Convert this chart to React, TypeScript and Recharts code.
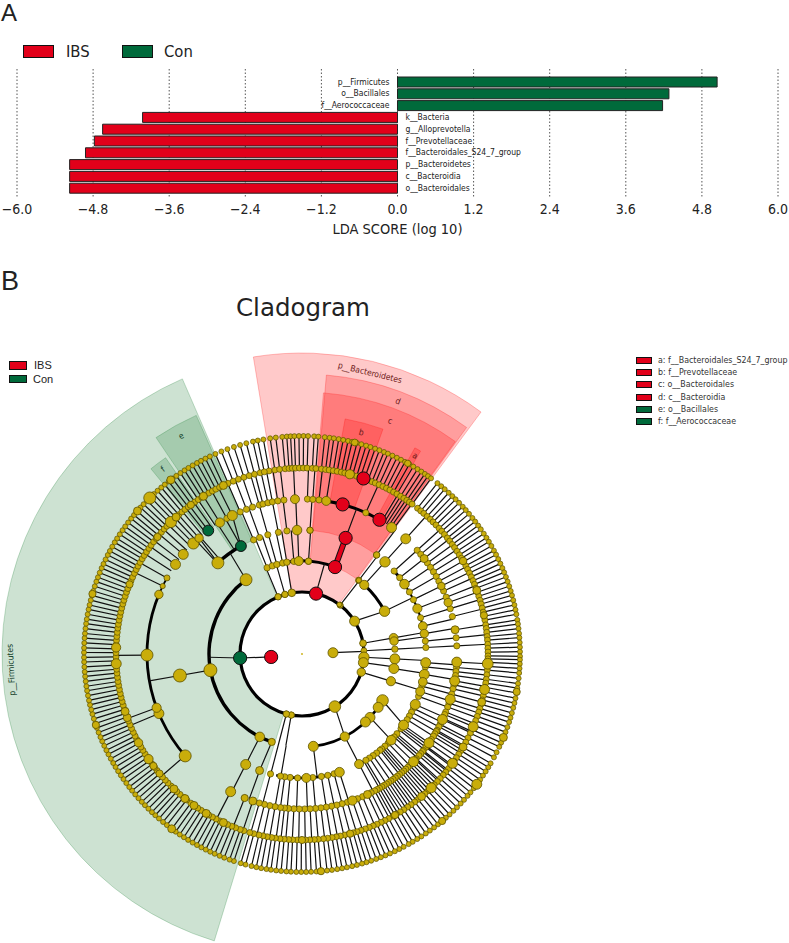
import React from 'react';
import { BarChart, Bar, XAxis, YAxis, CartesianGrid, Cell, LabelList, PieChart, Pie, ComposedChart, Line, Scatter } from 'recharts';

// ---------- Panel A data ----------
const taxa = ['p__Firmicutes','o__Bacillales','f__Aerococcaceae','k__Bacteria','g__Alloprevotella','f__Prevotellaceae','f__Bacteroidales_S24_7_group','p__Bacteroidetes','c__Bacteroidia','o__Bacteroidales'];
const ldaScores = [5.04,4.28,4.18,-4.02,-4.65,-4.78,-4.92,-5.17,-5.17,-5.17];
const ldaTicks = [-6,-4.8,-3.6,-2.4,-1.2,0,1.2,2.4,3.6,4.8,6];
const groups = ['IBS','Con'];
const cladeNames = ['a: f__Bacteroidales_S24_7_group','b: f__Prevotellaceae','c: o__Bacteroidales','d: c__Bacteroidia','e: o__Bacillales','f: f__Aerococcaceae'];
const cladeGroup = [0,0,0,0,1,1];

// ---------- Panel B data (compass degrees, clockwise from north) ----------
const leaves = [
  -10.2,-8.4,-6.9,-5.2,-4.0,-3.0,-2.0,-0.8,0.4,1.6,3.2,4.3,6.0,7.3,8.4,9.7,10.9,12.2,13.3,14.6,15.8,17.1,18.3,19.6,20.8,22.1,23.2,24.5,25.8,27.0,28.2,29.5,30.7,32.0,33.2,34.3,35.3,36.3,
  38.4,39.7,40.9,42.3,43.6,44.8,46.1,47.5,48.7,50.0,51.4,52.6,53.9,55.1,56.5,57.8,59.0,60.3,61.7,62.9,64.2,65.5,66.8,68.0,69.3,70.6,71.9,73.2,74.4,75.7,77.0,78.3,79.5,81.0,82.1,83.3,84.6,85.7,87.0,88.2,89.4,90.6,
  91.5,92.6,93.8,95.0,96.4,97.8,99.0,100.3,101.7,103.0,104.3,105.7,107.0,108.2,109.6,111.0,112.5,114.0,115.2,116.8,118.3,120.1,121.3,122.6,123.9,125.2,126.7,128.0,129.4,130.6,132.0,133.3,134.7,136.0,137.4,138.7,140.0,141.4,142.7,144.1,145.4,146.8,148.1,149.5,150.7,152.2,153.5,154.8,156.2,157.5,158.8,160.1,161.5,162.8,164.0,165.4,166.7,168.1,169.4,170.7,172.1,173.4,175.0,176.2,177.6,178.9,180.2,181.5,182.9,184.1,185.5,186.8,188.2,189.4,190.8,192.1,193.4,195.0,196.3,
  198.2,199.4,200.9,202.2,203.6,204.9,206.2,207.5,208.8,210.1,211.5,212.8,214.1,215.4,216.7,218.3,219.6,221.0,222.3,223.5,224.8,226.1,227.3,228.6,229.9,231.2,232.4,233.7,235.0,236.2,237.5,238.8,240.0,241.3,242.6,243.8,245.1,246.4,247.6,248.9,250.2,251.4,252.7,254.0,255.2,256.5,257.7,259.0,260.3,261.5,262.8,264.1,265.3,266.6,267.9,269.1,270.4,271.6,272.9,274.2,275.4,276.7,278.0,279.2,280.5,281.8,283.0,284.3,285.6,286.8,288.1,289.4,290.6,291.9,293.2,294.4,295.7,297.0,298.2,299.5,300.8,302.0,303.3,304.6,305.8,307.1,308.4,309.6,310.9,312.2,313.4,314.7,316.0,317.2,318.5,319.8,321.0,322.3,323.6,324.8,326.1,327.4,328.6,329.9,331.2,332.4,333.7,335.0,336.6,338.3,340.0,341.8,343.5,345.2,347.0,348.3
];
const nodes4 = [-29,-26.7,-23.5,-21,-18.6,-16,-14.6,-12.7,-11,-9,-6.7,-2.6,2,4,6.3,9,24.3,42,48,50,52,54,56,58,60,62,64,66,68.5,70.6,73,76,81,84,87,93,95,96.5,98,100,101.5,103,105,107,108.5,110,112,113,114.5,115,117,118,119.5,120,121,122,123.5,125,126.5,127,128.5,129,130,131,132.5,133,134,135,136,137,138,139,140,141,142,143,144,145,146,147,148,149,150,151,152,153.5,155,157,159,161,163,165,167,169,171,173,175,177,179,181,183,185,186.5,188,190,192,194,196,198.5,201.7,207.4,229,247.4,249.7,269.6];
const fan45 = [31,32,33,34,35,36.2,-64,-60.6,-57.5,-54.7,-52.5,-50,-48,-46,-44.5,-43,-41.6,-40,-38.5,-37.2,-35.5,-34,-32];
const nodes3 = [-23,-20,-16,-11,-7,-2.3,3.7,37,48,52,56,60,64,68.5,73,77,80.5,84,87,94,96,99.5,103,105,107.6,110,114,116,118,120,122,125,127,130,132,134,136,138,140,141,143,145,147,149,152.6,162.4,165,168,171,175,178,182,185.5,188,190,194.7,200,207];
const fan34 = [-43,-29.5,-41,-33,126,128,131,136,139,143,147,150];
const nodes2 = [-22,-18.6,-15.7,-12,-9.4,-5,-2,4,37.6,80,82,87,93,99,107];
const links23 = [[-37,-35.5],[42,42],[62.6,63],[120,125],[133,134],[152.6,152.6],[173,173],[189.8,189.8],[194.6,194.6],[199,200],[207,207],[260,260]];
const nodes1 = [-22.7,-16,-9.5,38,80,87,93,98,107,190,194.6];
const links12 = [[13,14],[58,62.6],[148,152.6],[266.3,268]];
const links01 = [[87.6,87.6],[264.5,266.3]];
const links34extra = [[20.6,20.6],[42,42],[260,260],[-42.7,-41.6],[-29.5,-26.7]];
const hubs = [
  [0,87.6,5],[1,58,5],[1,80,3.4],[1,93,5.2],[1,98,5],[1,107,4.2],[1,148,5.8],[1,190,3.2],[1,194.6,3.2],[1,-22.7,3.2],[1,-16,3.2],[1,-9.5,3.8],[1,38,2.8],[1,37,2.4],
  [2,-37,6],[2,260,6.5],[2,207,4.8],[2,199,3.6],[2,42,4.6],[2,62.6,5.2],[2,93,5],[2,99,5],[2,107,4.6],[2,120,5.8],[2,125,5],[2,133,5],[2,137,5],[2,152.6,4.6],[2,173,5],[2,-2,4.5],[2,4,3.2],[2,80,4.4],[2,82,4.2],[2,37.6,2.6],
  [3,-42.7,6],[3,260,6.5],[3,207,5],[3,200,4],[3,42,5.2],[3,55.7,4.8],[3,68.5,4.6],[3,77,4.4],[3,94,5],[3,99.5,5],[3,103,4.4],[3,107.6,4.5],[3,114,5],[3,125,5],[3,134,4.8],[3,152.6,4.5],[3,178,4.5],[3,162.4,4.8],[3,-2.3,4.8],[3,3.7,3.2],[3,37,3.2],[3,80.5,4.2],
  [4,42,5],[4,35.3,5],[4,-2.6,4.5],[4,9,4.5],[4,-44.5,5.6],[4,-41.6,4.2],[4,-50,5],[4,-54.7,5],[4,-60.6,3],[4,-64,2.6],[4,-67.4,4.2],[4,269.6,6],[4,247.4,5],[4,249.7,4.6],[4,228.9,6],[4,207.4,5],[4,201.7,3.6],[4,198.5,4],[4,-32,4.6],[4,-26.7,5],[4,93,5],[4,100,5],[4,107,5],[4,115,5],[4,125,5],[4,134,5],[4,155,4],[4,161,4.6],[4,52,4],[4,64,3.8],[4,70.6,4.2],[4,81,4],
  [5,14.9,4.6],[5,-44.8,5.6],[5,-42.6,4],[5,-51,3.6],[5,-68,3.6],[5,-88,4.6],[5,-93,5],[5,250,4],[5,252,4],[5,241.5,4.2],[5,235.6,4.6],[5,233,3.6],[5,230,3.6],[5,223.5,4],[5,219,4],[5,215.5,4],[5,211,4],[5,205,4],[5,-25,4],[5,-32,4],[5,-36.7,3.6],[5,93,5.4],[5,101,5],[5,113,5],[5,126,5],[5,136,5],[5,140,4],[5,60,3.8],[5,70,4],[5,78,3.6],[5,105,4],[5,120,4],[5,150,3.6],[5,165,3.6],[5,180,3.6],
  [6,-44.3,6],[6,-49,4],[6,-37,4],[6,-74,3.6],[6,-109,3.6],[6,216.7,4],[6,112.5,4],[6,126.7,5],[6,140,3.6],[6,100,3.6],[6,175,3.6],[6,14,3.4],[6,29,3.2]
];
const ibsNodes = [[0,264.5],[1,13.1],[2,20.8],[3,20.6],[4,15.2],[4,30],[5,19.3]];
const conNodes = [[1,266.3],[3,-29.5],[4,-37.2]];
const thickArcs = [
  [1,0,360,3.2],[2,-22,21,3],[2,199,323,3.4],[2,42,63,3],[2,120,173,2.6],
  [3,125,153,2.6],[3,48,56,3],[3,56,77,2],[3,-43,-29.5,3.4],[3,162,192,2.6],
  [4,229,293,2.8],[4,9,30,3],[4,-67,-60,1.8],[5,-52,-48,1.5],[4,93,96,1.5]
];
const ringRadii = [31,62,93,124,155,186,218];
const phylumBands = [
  { start:-163, end:-23.5, inner:62, outer:300, group:1 },
  { start:-9.3, end:36.5, inner:62, outer:301, group:0 },
  { start:5, end:36, inner:93, outer:280, group:0 },
  { start:4.7, end:35.8, inner:124, outer:262, group:0 },
  { start:10.4, end:19.8, inner:155, outer:239, group:0 },
  { start:28.7, end:30.3, inner:155, outer:235, group:0 },
  { start:-34, end:-23.9, inner:124, outer:261, group:1 },
  { start:-39.2, end:-34.8, inner:155, outer:239, group:1 },
];
const cladeLabels = [
  { text:'p__Bacteroidetes', c:13.6, r:289, size:8.5, group:0 },
  { text:'d', c:20.8, r:270, size:8.5, group:0 },
  { text:'c', c:20.7, r:249, size:8.5, group:0 },
  { text:'b', c:15, r:229, size:8.5, group:0 },
  { text:'a', c:29.7, r:228, size:8.5, group:0 },
  { text:'e', c:-29, r:249, size:8.5, group:1 },
  { text:'f', c:-37, r:231, size:8.5, group:1 },
  { text:'p__Firmicutes', c:-93.1, r:291, size:8.5, group:1 },
];

const COL = ['#e2001a','#006a3b'];
const BAND = ['#ff0000','#12782a'];
const LABEL = ['#6e1a1a','#14402a'];
const CX = 302, CY = 654, W = 789, H = 943;
const FONT = '"DejaVu Sans Condensed","DejaVu Sans",sans-serif';

const rows = taxa.map((name, i) => ({ name, score: ldaScores[i] }));
const polar = (radius: number, c: number) => ({ x: radius * Math.sin(c * Math.PI / 180), y: radius * Math.cos(c * Math.PI / 180) });

const spokeRows: any[] = [];
const addSpoke = (r1: number, c1: number, r2: number, c2: number) => {
  const a = polar(r1, c1), b = polar(r2, c2);
  spokeRows.push({ x: a.x, y: a.y }, { x: b.x, y: b.y }, { x: b.x, y: null });
};
leaves.forEach(c => addSpoke(ringRadii[5], c, ringRadii[6], c));
nodes4.concat(fan45).forEach(c => addSpoke(ringRadii[4], c, ringRadii[5], c));
nodes3.concat(fan34).forEach(c => addSpoke(ringRadii[3], c, ringRadii[4], c));
links34extra.forEach(([a, b]) => addSpoke(ringRadii[3], a, ringRadii[4], b));
nodes2.forEach(c => addSpoke(ringRadii[2], c, ringRadii[3], c));
links23.forEach(([a, b]) => addSpoke(ringRadii[2], a, ringRadii[3], b));
nodes1.forEach(c => addSpoke(ringRadii[1], c, ringRadii[2], c));
links12.forEach(([a, b]) => addSpoke(ringRadii[1], a, ringRadii[2], b));
links01.forEach(([a, b]) => addSpoke(ringRadii[0], a, ringRadii[1], b));

const redSpoke = [polar(ringRadii[2], 20.8), polar(ringRadii[3], 20.6)];

const mk = (ring: number, c: number, size: number) => ({ ...polar(ringRadii[ring], c), size });
const smallNodes = [
  ...leaves.map(c => mk(6, c, 2.5)),
  ...leaves.map(c => mk(5, c, 3)),
  ...nodes4.map(c => mk(4, c, 3.1)),
  ...nodes3.map(c => mk(3, c, 3.1)),
  ...nodes2.map(c => mk(2, c, 3.2)),
  ...nodes1.map(c => mk(1, c, 3)),
];
const hubNodes = hubs.map(([ring, c, s]) => mk(ring, c, s));
const ibs = ibsNodes.map(([ring, c]) => mk(ring, c, 6.6));
const con = conNodes.map(([ring, c]) => mk(ring, c, ring === 1 ? 6.6 : 5.4));
const rootNode = [{ x: 0, y: 0, size: 0.9 }];
const labelRows = cladeLabels.map(l => ({ ...polar(l.r, l.c), ...l }));

const dot = (fill: string, stroke: string, sw: number) => (p: any) => (
  <circle cx={p.cx} cy={p.cy} r={p.payload.size} fill={fill} stroke={stroke} strokeWidth={sw} />
);
const labelShape = (p: any) => (
  <text x={p.cx} y={p.cy} fontSize={p.payload.size} fill={LABEL[p.payload.group]} fontFamily={FONT}
    textAnchor="middle" dominantBaseline="middle" transform={`rotate(${p.payload.c} ${p.cx} ${p.cy})`}>{p.payload.text}</text>
);

const BarLabel = (p: any) => {
  const pos = p.value >= 0;
  const zero = pos ? Math.min(p.x, p.x + p.width) : Math.max(p.x, p.x + p.width);
  const row = rows[p.index];
  return (
    <text x={zero + (pos ? -8 : 8)} y={p.y + p.height / 2} fontSize={8.5} fill="#222" fontFamily={FONT}
      textAnchor={pos ? 'end' : 'start'} dominantBaseline="middle">{row ? row.name : ''}</text>
  );
};

const abs = (x: number, y: number): React.CSSProperties => ({ position: 'absolute', left: x, top: y, lineHeight: 1, whiteSpace: 'nowrap' });
const swatch = (x: number, y: number, w: number, h: number, fill: string, bw: number) => (
  <div style={{ ...abs(x, y), width: w, height: h, boxSizing: 'border-box', background: fill, border: `${bw}px solid #111` }} />
);

export default function App() {
  return (
    <div style={{ position: 'absolute', left: 0, top: 0, width: W, height: H, background: '#fff', overflow: 'hidden', fontFamily: FONT, color: '#222' }}>
      <div style={{ ...abs(1, 1), fontFamily: '"Liberation Sans"', fontSize: 24 }}>A</div>
      <div style={{ ...abs(1, 268), fontFamily: '"Liberation Sans"', fontSize: 27 }}>B</div>
      <div style={{ ...abs(0, 296), width: 606, textAlign: 'center', fontFamily: '"DejaVu Sans"', fontSize: 24.5 }}>Cladogram</div>

      {swatch(23, 45, 31, 13, COL[0], 1)}
      <div style={{ ...abs(66, 44), fontSize: 16.5 }}>{groups[0]}</div>
      {swatch(122, 45, 31, 13, COL[1], 1)}
      <div style={{ ...abs(164, 44), fontSize: 16.5 }}>{groups[1]}</div>

      <div style={{ ...abs(0, 0) }}>
        <BarChart width={W} height={240} layout="vertical" data={rows} margin={{ left: 17, right: 11, top: 69, bottom: 0 }}>
          <CartesianGrid horizontal={false} stroke="#555" strokeDasharray="1.5 2" />
          <XAxis type="number" dataKey="score" domain={[-6, 6]} ticks={ldaTicks} interval={0} axisLine={false} tickLine={false} height={43}
            tickFormatter={(v: number) => (v < 0 ? '\u2212' : '') + Math.abs(v).toFixed(1)}
            tick={{ fontSize: 14, fill: '#222', fontFamily: FONT }} tickMargin={1}
            label={{ value: 'LDA SCORE (log 10)', position: 'insideBottom', offset: 6, style: { fontSize: 14.5, fill: '#222', fontFamily: FONT } }} />
          <YAxis type="category" dataKey="name" hide padding={{ top: 7, bottom: 3 }} />
          <Bar dataKey="score" barSize={10} stroke="#222" strokeWidth={1} isAnimationActive={false}>
            {rows.map((r) => <Cell key={r.name} fill={r.score >= 0 ? COL[1] : COL[0]} />)}
            <LabelList dataKey="score" content={BarLabel} />
          </Bar>
        </BarChart>
      </div>

      {swatch(9, 361, 18, 9, COL[0], 1.5)}
      <div style={{ ...abs(34, 360), fontFamily: '"Liberation Sans"', fontSize: 11 }}>{groups[0]}</div>
      {swatch(9, 375, 18, 8, COL[1], 1.5)}
      <div style={{ ...abs(33, 374), fontFamily: '"Liberation Sans"', fontSize: 11 }}>{groups[1]}</div>

      {cladeNames.map((n, i) => (
        <React.Fragment key={n}>
          {swatch(636, 357 + i * 12.2, 16, 7, COL[cladeGroup[i]], 1.2)}
          <div style={{ ...abs(658, 356 + i * 12.2), fontSize: 8.8, color: '#333' }}>{n}</div>
        </React.Fragment>
      ))}

      <div style={{ ...abs(0, 0) }}>
        <PieChart width={W} height={H} margin={{ top: 0, left: 0, right: 0, bottom: 0 }}>
          {phylumBands.map((b, i) => (
            <Pie key={'b' + i} data={[{ value: 1 }]} dataKey="value" cx={CX} cy={CY} innerRadius={b.inner} outerRadius={b.outer}
              startAngle={90 - b.start} endAngle={90 - b.end} fill={BAND[b.group]} fillOpacity={0.21} stroke={BAND[b.group]} strokeOpacity={0.3} strokeWidth={0.8} isAnimationActive={false} label={false} labelLine={false} />
          ))}
          {thickArcs.map(([ring, s, e, w], i) => (
            <Pie key={'a' + i} data={[{ value: 1 }]} dataKey="value" cx={CX} cy={CY} innerRadius={ringRadii[ring] - w / 2} outerRadius={ringRadii[ring] + w / 2}
              startAngle={90 - s} endAngle={90 - e} fill="#000" stroke="none" isAnimationActive={false} label={false} labelLine={false} />
          ))}
        </PieChart>
      </div>

      <div style={{ ...abs(0, 0) }}>
        <ComposedChart width={W} height={H} margin={{ top: 0, left: 0, right: 0, bottom: 0 }}>
          <XAxis type="number" dataKey="x" domain={[-CX, W - CX]} hide allowDataOverflow />
          <YAxis type="number" dataKey="y" domain={[CY - H, CY]} hide allowDataOverflow />
          <Line data={spokeRows} dataKey="y" stroke="#111" strokeWidth={1.2} dot={false} activeDot={false} connectNulls={false} isAnimationActive={false} />
          <Line data={redSpoke} dataKey="y" stroke="#111" strokeWidth={6} dot={false} activeDot={false} isAnimationActive={false} />
          <Line data={redSpoke} dataKey="y" stroke={COL[0]} strokeWidth={4} dot={false} activeDot={false} isAnimationActive={false} />
          <Scatter data={smallNodes} dataKey="y" shape={dot('#c9ad0a', '#5c5200', 0.7)} isAnimationActive={false} />
          <Scatter data={hubNodes} dataKey="y" shape={dot('#c9ad0a', '#5c5200', 0.8)} isAnimationActive={false} />
          <Scatter data={rootNode} dataKey="y" shape={dot('#c9ad0a', '#c9ad0a', 0)} isAnimationActive={false} />
          <Scatter data={ibs} dataKey="y" shape={dot(COL[0], '#111', 1)} isAnimationActive={false} />
          <Scatter data={con} dataKey="y" shape={dot(COL[1], '#111', 1)} isAnimationActive={false} />
          <Scatter data={labelRows} dataKey="y" shape={labelShape} isAnimationActive={false} />
        </ComposedChart>
      </div>
    </div>
  );
}
